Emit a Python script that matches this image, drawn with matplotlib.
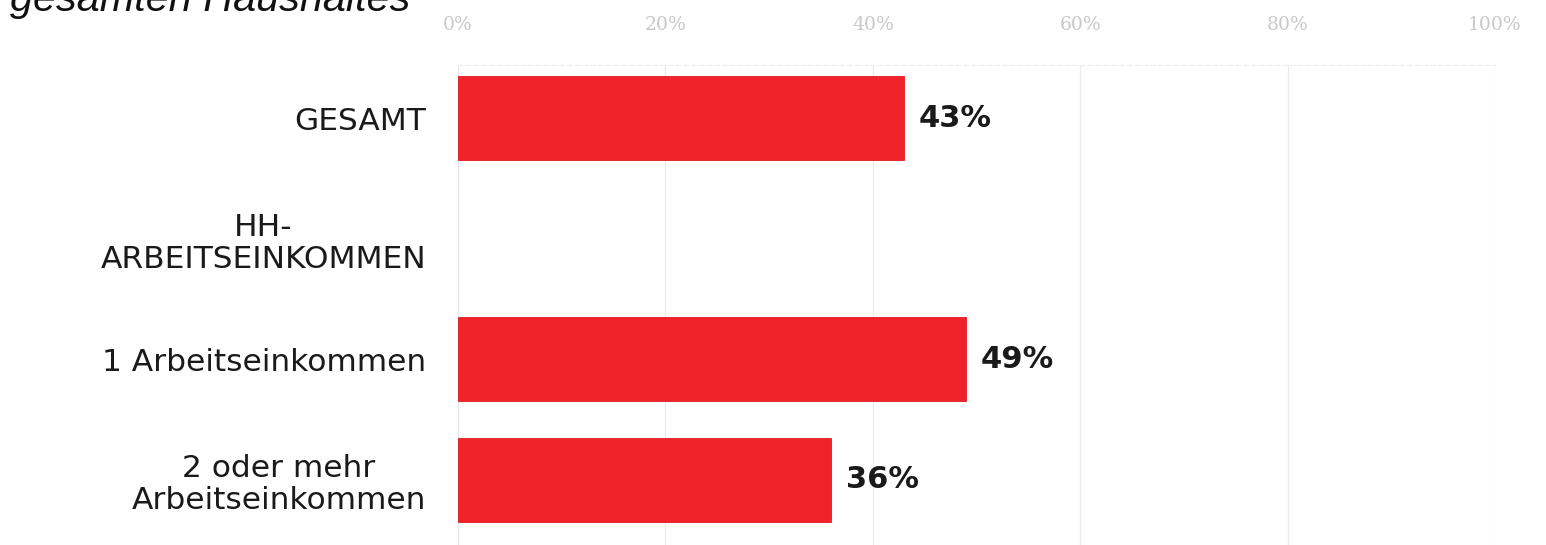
import numpy as np
import matplotlib
matplotlib.use("Agg")
import matplotlib.pyplot as plt

categories = ["GESAMT", "HH-\nARBEITSEINKOMMEN", "1 Arbeitseinkommen", "2 oder mehr\nArbeitseinkommen"]
values = [43, np.nan, 49, 36]
value_labels = ["43%", "", "49%", "36%"]
xticks = [0, 20, 40, 60, 80, 100]
xtick_labels = ["0%", "20%", "40%", "60%", "80%", "100%"]
title = "gesamten Haushaltes"

fig = plt.figure(figsize=(15.46, 5.45), dpi=100)
ax = fig.add_axes([458/1546, 0.0, (1495-458)/1546, 1-65/545])

ypos = np.arange(len(categories))
ax.barh(ypos, values, height=0.7, color="#f0232b", edgecolor="#e01a22", linewidth=0.6, zorder=3)

for y, v, lab in zip(ypos, values, value_labels):
    if lab:
        ax.text(v + 1.4, y, lab, va="center", ha="left", fontsize=22, fontweight="bold",
                color="#1a1a1a", family="DejaVu Sans")

ax.set_xlim(0, 100)
ax.set_ylim(3.54, -0.44)
ax.set_yticks(ypos)
ax.set_yticklabels(categories, fontsize=22.5, color="#1a1a1a", family="DejaVu Sans",
                   multialignment="center", linespacing=1.15)
ax.tick_params(axis="y", length=0, pad=23)

ax.xaxis.tick_top()
ax.set_xticks(xticks)
ax.set_xticklabels(xtick_labels, fontsize=13.5, color="#c8c8c8", family="DejaVu Serif")
ax.tick_params(axis="x", length=0, pad=22)

ax.grid(axis="x", color="#ececec", linewidth=1.0, zorder=0)
for s in ["right", "bottom"]:
    ax.spines[s].set_visible(False)
ax.spines["left"].set_color("#e6e6e6")
ax.spines["top"].set_color("#eeeeee")
ax.spines["top"].set_linestyle((0, (4, 3)))

fig.text(10/1546, 1 - 11/545, title, fontsize=29.8, style="italic", family="Liberation Sans",
         color="#111111", ha="left", va="baseline")

fig.savefig("out.png", dpi=100)
